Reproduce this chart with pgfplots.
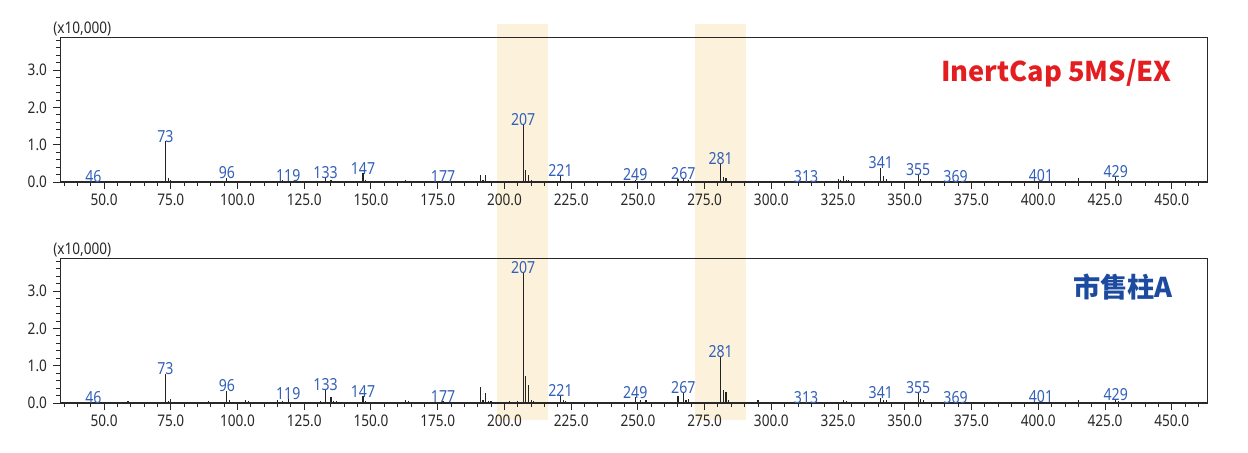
\documentclass[border=0pt]{standalone}
\usepackage{pgfplots}
\pgfplotsset{compat=1.18}
\usepackage{pgfplotstable}
\usepackage{fontspec}
\setmainfont{Noto Sans}[FakeStretch=0.85]
\newfontfamily\cjk{Noto Sans CJK SC}

\definecolor{band}{RGB}{252,242,219}
\definecolor{axcol}{RGB}{40,40,40}
\definecolor{barcol}{RGB}{35,35,35}
\definecolor{lblblue}{RGB}{50,95,185}
\definecolor{titlered}{RGB}{228,30,32}
\definecolor{titleblue}{RGB}{28,74,158}

\newcommand{\tickfont}{\fontsize{8}{8.5}\selectfont}
\newcommand{\lblfont}{\fontsize{8.3}{8.5}\selectfont}

% m/z and relative intensity (x10,000), upper trace
\pgfplotstableread{
mz h
46 0.02
59 0.04
73 1.10
74 0.12
75 0.05
87 0.03
89 0.04
96 0.12
97 0.03
103 0.04
105 0.03
115 0.04
117 0.06
119 0.06
131 0.04
133 0.13
135 0.05
147 0.23
148 0.06
149 0.03
163 0.05
165 0.04
171 0.03
177 0.03
179 0.02
191 0.18
192 0.06
193 0.18
194 0.04
195 0.04
205 0.03
207 1.55
208 0.31
209 0.18
210 0.05
221 0.18
222 0.04
223 0.04
249 0.06
252 0.04
265 0.07
267 0.10
268 0.04
269 0.06
281 0.50
282 0.13
283 0.12
284 0.04
295 0.04
297 0.03
313 0.02
325 0.08
326 0.05
327 0.15
328 0.05
329 0.05
341 0.38
342 0.16
343 0.08
344 0.03
355 0.20
356 0.08
357 0.04
369 0.02
387 0.04
401 0.05
403 0.04
415 0.12
416 0.04
417 0.04
429 0.15
430 0.06
431 0.03
}\topdata

% lower trace
\pgfplotstableread{
mz h
46 0.02
59 0.06
60 0.04
73 0.78
74 0.05
75 0.10
77 0.04
78 0.03
81 0.04
82 0.04
87 0.04
88 0.04
89 0.05
91 0.04
96 0.33
97 0.08
103 0.08
104 0.05
105 0.04
115 0.08
117 0.05
119 0.12
121 0.04
125 0.04
131 0.05
133 0.35
135 0.15
136 0.05
137 0.05
147 0.19
148 0.05
161 0.04
163 0.07
164 0.05
165 0.04
177 0.05
179 0.04
189 0.04
191 0.43
192 0.08
193 0.27
194 0.05
195 0.05
202 0.05
204 0.04
205 0.05
207 3.49
208 0.72
209 0.47
210 0.09
211 0.06
219 0.04
221 0.22
222 0.07
223 0.05
249 0.15
251 0.07
253 0.07
254 0.04
265 0.20
267 0.27
268 0.08
269 0.11
270 0.04
271 0.04
272 0.04
281 1.25
282 0.36
283 0.29
284 0.07
285 0.04
295 0.07
297 0.04
313 0.02
325 0.04
327 0.07
328 0.05
329 0.04
341 0.14
342 0.08
343 0.08
344 0.04
355 0.28
356 0.10
357 0.07
358 0.03
401 0.04
403 0.04
404 0.03
415 0.08
416 0.04
417 0.04
429 0.10
430 0.05
431 0.04
}\botdata

\pgfplotsset{
  ms/.style={
    scale only axis, width=573.5pt, height=72.5pt,
    xmin=33.5, xmax=463.2, ymin=0, ymax=3.89,
    xtick={50,75,...,450}, minor xtick={35,40,...,460},
    ytick={0,1,2,3}, minor ytick={0,0.2,...,3.8},
    tick pos=left, tick align=outside,
    major tick length=3.5pt, minor tick length=2pt,
    axis line style={draw=axcol, line width=0.5pt},
    tick style={draw=axcol, line width=0.5pt},
    ticklabel style={font=\tickfont, text=axcol},
    xticklabel style={yshift=1pt},
    yticklabel style={xshift=0.5pt},
    /pgf/number format/fixed, /pgf/number format/fixed zerofill,
    /pgf/number format/precision=1, /pgf/number format/1000 sep={},
    /pgf/number format/assume math mode=true,
    clip=false, set layers,
  },
  bars/.style={ycomb, draw=barcol, line width=0.6pt, mark=none},
  peaklbl/.style={draw=none, mark=none, nodes near coords,
    point meta=explicit symbolic,
    nodes near coords style={font=\lblfont, text=lblblue, anchor=south,
      inner sep=0pt, yshift=-0.8pt}},
}

\begin{document}
\begin{tikzpicture}

\begin{axis}[ms, at={(30pt,-18.5pt)}, anchor=north west]
\begin{pgfonlayer}{axis background}
\fill[band] (axis cs:197.2,-6.38) rectangle (axis cs:216.3,4.24);
\fill[band] (axis cs:271.5,-6.38) rectangle (axis cs:290.5,4.24);
\end{pgfonlayer}
\addplot[bars] table[x=mz, y=h] {\topdata};
\addplot[peaklbl] coordinates {
  (46,0.02)[46] (73,1.10)[73] (96,0.12)[96] (119,0.03)[119]
  (133,0.13)[133] (147,0.23)[147] (177,0.03)[177] (207,1.55)[207]
  (221,0.18)[221] (249,0.06)[249] (267,0.10)[267] (281,0.50)[281]
  (313,0.02)[313] (341,0.38)[341] (355,0.20)[355] (369,0.02)[369]
  (401,0.05)[401] (429,0.15)[429]
};
\draw[axcol, line width=1.1pt] (rel axis cs:0,0) -- (rel axis cs:1,0);
\node[font=\tickfont, text=axcol, anchor=base west, inner sep=0pt]
  at (rel axis cs:0,1) [xshift=-3.5pt, yshift=2pt] {(x10,000)};
\node[font=\cjk\bfseries\fontsize{13.6}{14}\selectfont, text=titlered,
  anchor=east, inner sep=0pt] at (rel axis cs:1,0.752) [xshift=-17.5pt]
  {InertCap 5MS/EX};
\end{axis}

\begin{axis}[ms, at={(30pt,-129pt)}, anchor=north west]
\addplot[bars] table[x=mz, y=h] {\botdata};
\addplot[peaklbl] coordinates {
  (46,0.02)[46] (73,0.78)[73] (96,0.33)[96] (119,0.12)[119]
  (133,0.35)[133] (147,0.19)[147] (177,0.05)[177] (207,3.49)[207]
  (221,0.22)[221] (249,0.15)[249] (267,0.27)[267] (281,1.25)[281]
  (313,0.02)[313] (341,0.14)[341] (355,0.28)[355] (369,0.02)[369]
  (401,0.04)[401] (429,0.10)[429]
};
\draw[axcol, line width=1.1pt] (rel axis cs:0,0) -- (rel axis cs:1,0);
\node[font=\tickfont, text=axcol, anchor=base west, inner sep=0pt]
  at (rel axis cs:0,1) [xshift=-3.5pt, yshift=2pt] {(x10,000)};
\node[font=\cjk\bfseries\fontsize{13.6}{14}\selectfont, text=titleblue,
  anchor=east, inner sep=0pt] at (rel axis cs:1,0.80) [xshift=-17pt]
  {市售柱A};
\end{axis}

% page frame of the reference image
\path (0,0) rectangle (624pt,-226pt);
\end{tikzpicture}
\end{document}
